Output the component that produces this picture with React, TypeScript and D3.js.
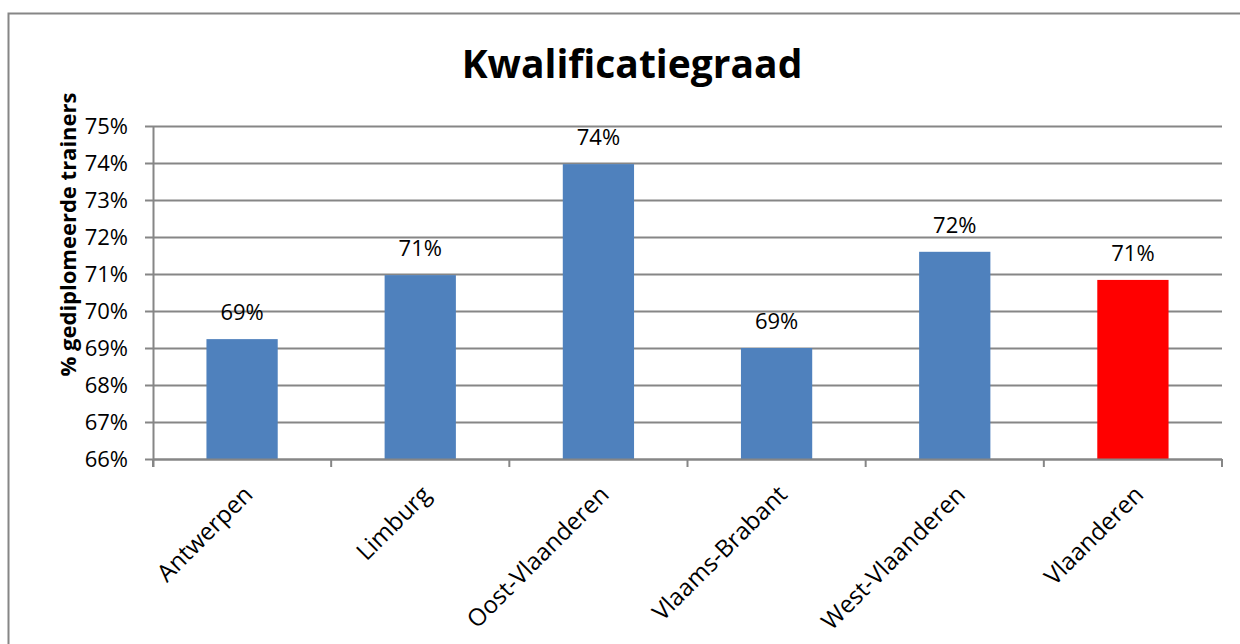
import React from "react";
import * as d3 from "d3";

const WIDTH = 1240;
const HEIGHT = 644;
const MARGIN = { top: 126, right: 18, bottom: 185, left: 153 };

const categories = [
  "Antwerpen",
  "Limburg",
  "Oost-Vlaanderen",
  "Vlaams-Brabant",
  "West-Vlaanderen",
  "Vlaanderen",
];
const values = [0.6924, 0.7097, 0.7397, 0.69, 0.716, 0.7084];
const labels = ["69%", "71%", "74%", "69%", "72%", "71%"];
const yTicks = [0.66, 0.67, 0.68, 0.69, 0.7, 0.71, 0.72, 0.73, 0.74, 0.75];

const FONT = "'Open Sans', 'DejaVu Sans', sans-serif";
const GRID = "#868686";

export default function App() {
  const boundsWidth = WIDTH - MARGIN.left - MARGIN.right;
  const boundsHeight = HEIGHT - MARGIN.top - MARGIN.bottom;

  const xScale = d3
    .scaleBand()
    .domain(categories)
    .range([0, boundsWidth])
    .paddingInner(0.6)
    .paddingOuter(0.3);

  const yScale = d3.scaleLinear().domain([0.66, 0.75]).range([boundsHeight, 0]);

  const step = xScale.step();
  const bandStart = (c) => (xScale(c) ?? 0) - step * xScale.paddingOuter();
  const fmt = d3.format(".0%");

  return (
    <svg
      width={WIDTH}
      height={HEIGHT}
      style={{ position: "absolute", left: 0, top: 0, background: "#fff" }}
      fontFamily={FONT}
    >
      {/* chart frame */}
      <rect x={8.5} y={13.5} width={1240} height={640} fill="#fff" stroke={GRID} strokeWidth={2} />

      <text x={632} y={78} textAnchor="middle" fontSize={39} fontWeight="bold" fill="#000">
        Kwalificatiegraad
      </text>

      <text
        transform={`translate(76,${MARGIN.top + boundsHeight / 2 - 58}) rotate(-90)`}
        textAnchor="middle"
        fontSize={22}
        fontWeight="bold"
        fill="#000"
      >
        % gediplomeerde trainers
      </text>

      <g transform={`translate(${MARGIN.left},${MARGIN.top})`}>
        {/* gridlines + y ticks */}
        {yTicks.map((t) => (
          <g key={t} transform={`translate(0,${Math.round(yScale(t)) + 0.5})`}>
            <line x1={-8} x2={boundsWidth} stroke={GRID} strokeWidth={2} />
            <text x={-25} dy="0.36em" textAnchor="end" fontSize={22} fill="#000">
              {fmt(t)}
            </text>
          </g>
        ))}

        {/* bars */}
        {categories.map((c, i) => (
          <rect
            key={c}
            x={xScale(c)}
            y={yScale(values[i])}
            width={xScale.bandwidth()}
            height={boundsHeight - yScale(values[i])}
            fill={i === categories.length - 1 ? "#FF0000" : "#4F81BD"}
          />
        ))}

        {/* value labels */}
        {categories.map((c, i) => (
          <text
            key={c}
            x={(xScale(c) ?? 0) + xScale.bandwidth() / 2}
            y={yScale(values[i]) - 19}
            textAnchor="middle"
            fontSize={22}
            fill="#000"
          >
            {labels[i]}
          </text>
        ))}

        {/* y axis line */}
        <line x1={0.5} x2={0.5} y1={0} y2={boundsHeight + 8} stroke={GRID} strokeWidth={2} />

        {/* x axis line + category ticks */}
        <line x1={0} x2={boundsWidth} y1={boundsHeight + 0.5} y2={boundsHeight + 0.5} stroke={GRID} strokeWidth={2} />
        {[...categories.map(bandStart), boundsWidth].map((x, i) => (
          <line key={i} x1={x} x2={x} y1={boundsHeight} y2={boundsHeight + 8} stroke={GRID} strokeWidth={2} />
        ))}

        {/* category labels */}
        {categories.map((c) => (
          <text
            key={c}
            transform={`translate(${(xScale(c) ?? 0) + xScale.bandwidth() / 2 + 12},${boundsHeight + 37}) rotate(-45)`}
            textAnchor="end"
            fontSize={24}
            fill="#000"
          >
            {c}
          </text>
        ))}
      </g>
    </svg>
  );
}
